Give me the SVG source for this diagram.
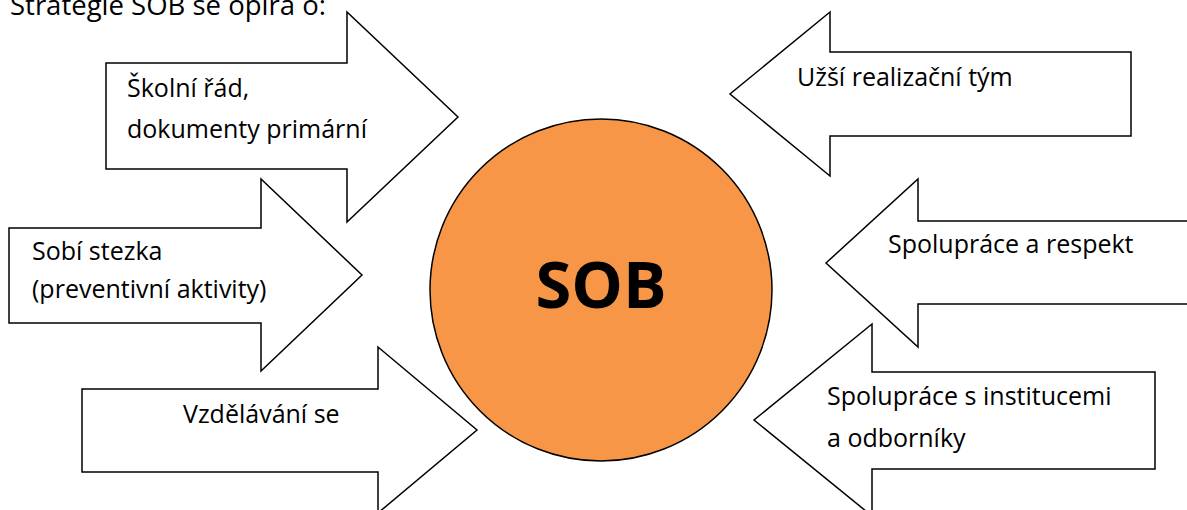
<svg xmlns="http://www.w3.org/2000/svg" width="1187" height="510" viewBox="0 0 1187 510">
<style>
.arrow{fill:#ffffff;stroke:#000000;stroke-width:1.5;stroke-linejoin:miter}
.lbl{font-family:"Open Sans","Noto Sans","DejaVu Sans",sans-serif;font-size:25px;fill:#000000}
.title{font-family:"Open Sans","Noto Sans","DejaVu Sans",sans-serif;font-size:27.5px;fill:#000000}
.hub{fill:#F79646;stroke:#000000;stroke-width:1.5}
.hubtxt{font-family:"Open Sans","Noto Sans","DejaVu Sans",sans-serif;font-size:65px;font-weight:bold;fill:#000000}
</style>
<rect width="1187" height="510" fill="#ffffff"/>
<text class="title" x="10" y="15">Strategie SOB se opírá o:</text>
<g id="connectors">
<g id="arrow-skolni">
<polygon class="arrow" points="106,63 347,63 347,12 458,117 347,222 347,169 106,169"/>
<text class="lbl" x="127" y="97">Školní řád,</text>
<text class="lbl" x="127" y="138">dokumenty primární</text>
</g>
<g id="arrow-sobi">
<polygon class="arrow" points="9,228 261,228 261,179 362,275 261,371 261,323 9,323"/>
<text class="lbl" x="32" y="260">Sobí stezka</text>
<text class="lbl" x="32" y="298">(preventivní aktivity)</text>
</g>
<g id="arrow-vzdelavani">
<polygon class="arrow" points="82,389 378,389 378,347 477,430 378,513 378,472 82,472"/>
<text class="lbl" x="183" y="423">Vzdělávání se</text>
</g>
<g id="arrow-uzsi">
<polygon class="arrow" points="1131,52 830,52 830,12 730,94 830,176 830,136 1131,136"/>
<text class="lbl" x="797" y="86">Užší realizační tým</text>
</g>
<g id="arrow-respekt">
<polygon class="arrow" points="1200,221 918,221 918,179 826,263 918,347 918,304 1200,304"/>
<text class="lbl" x="888" y="253">Spolupráce a respekt</text>
</g>
<g id="arrow-instituce">
<polygon class="arrow" points="1155,372 872,372 872,324 754,420 872,516 872,469 1155,469"/>
<text class="lbl" x="827" y="405">Spolupráce s institucemi</text>
<text class="lbl" x="827" y="447">a odborníky</text>
</g>
</g>
<g id="node-sob">
<circle class="hub" cx="601" cy="290" r="171"/>
<text class="hubtxt" x="601" y="308" text-anchor="middle">SOB</text>
</g>
</svg>
